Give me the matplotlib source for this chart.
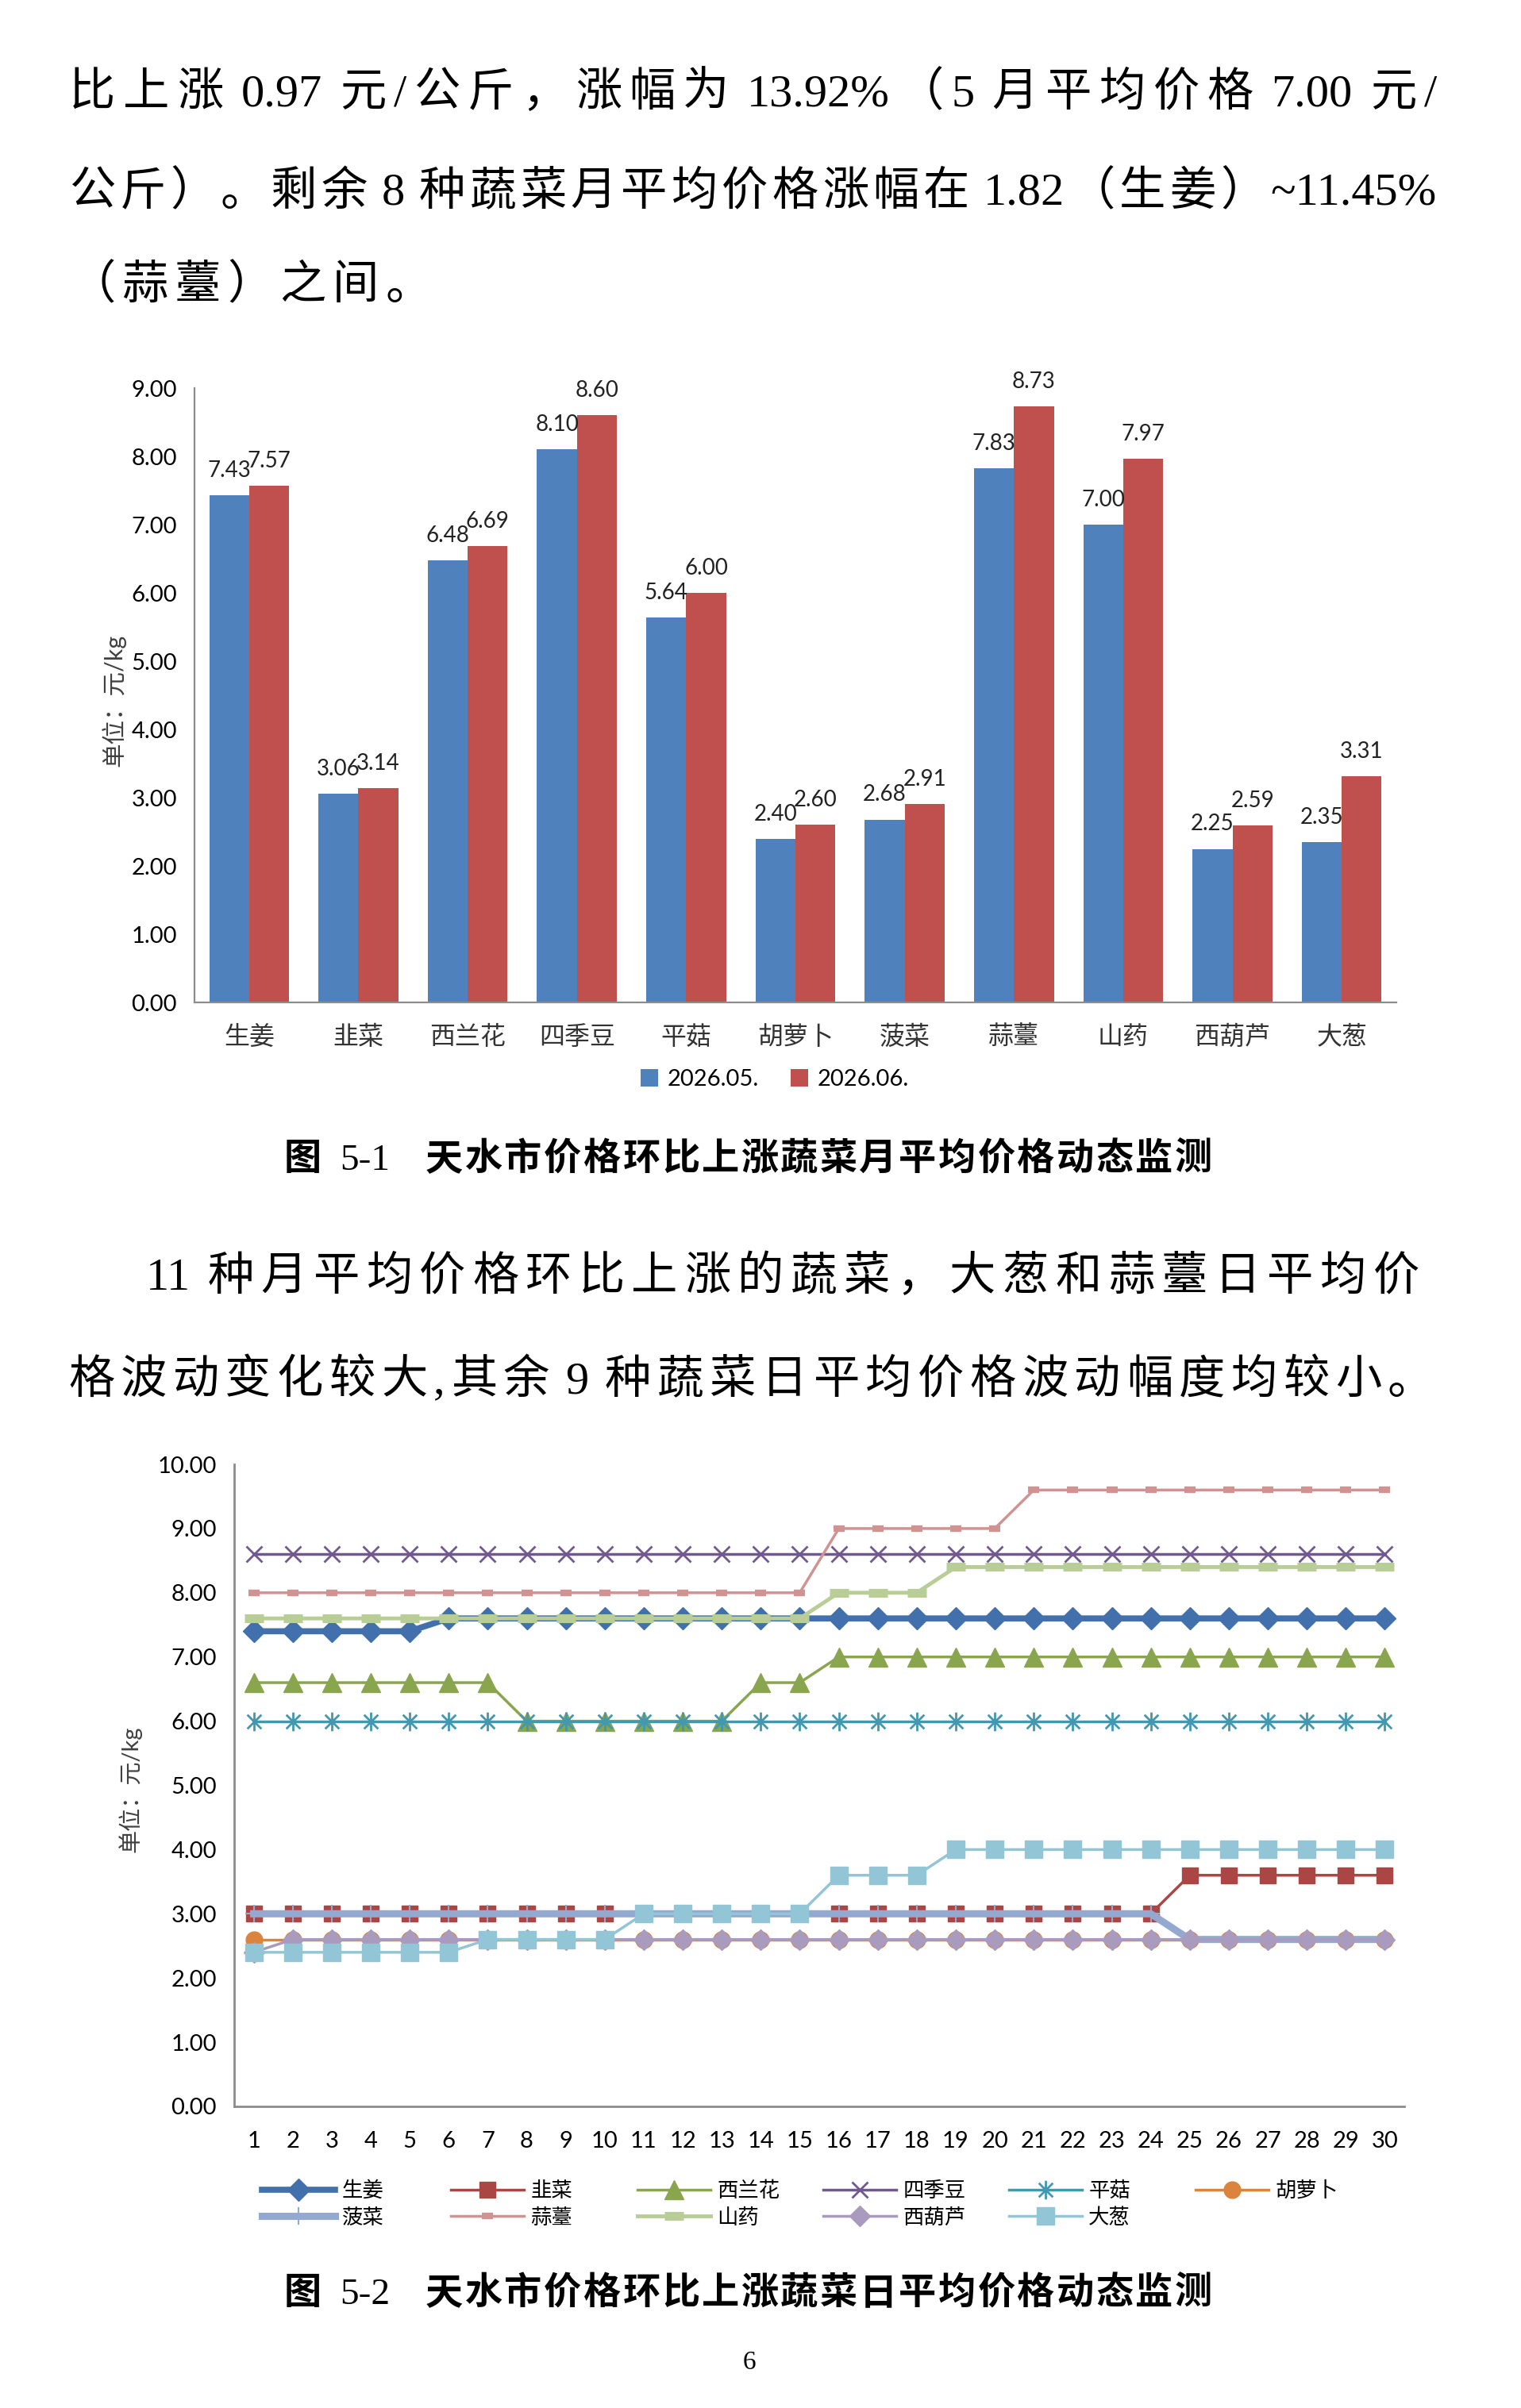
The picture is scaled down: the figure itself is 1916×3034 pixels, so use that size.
import re
import matplotlib
matplotlib.use('Agg')
import matplotlib.pyplot as plt
from matplotlib.path import Path

W, H = 1916, 3034

# ---- data ----
veg = ['生姜', '韭菜', '西兰花', '四季豆', '平菇', '胡萝卜', '菠菜', '蒜薹', '山药', '西葫芦', '大葱']
may = [7.43, 3.06, 6.48, 8.10, 5.64, 2.40, 2.68, 7.83, 7.00, 2.25, 2.35]
jun = [7.57, 3.14, 6.69, 8.60, 6.00, 2.60, 2.91, 8.73, 7.97, 2.59, 3.31]
months = ['2026.05.', '2026.06.']

days = list(range(1, 31))
ginger    = [7.4, 7.4, 7.4, 7.4, 7.4, 7.6, 7.6, 7.6, 7.6, 7.6, 7.6, 7.6, 7.6, 7.6, 7.6,
             7.6, 7.6, 7.6, 7.6, 7.6, 7.6, 7.6, 7.6, 7.6, 7.6, 7.6, 7.6, 7.6, 7.6, 7.6]
leek      = [3.0, 3.0, 3.0, 3.0, 3.0, 3.0, 3.0, 3.0, 3.0, 3.0, 3.0, 3.0, 3.0, 3.0, 3.0,
             3.0, 3.0, 3.0, 3.0, 3.0, 3.0, 3.0, 3.0, 3.0, 3.6, 3.6, 3.6, 3.6, 3.6, 3.6]
broccoli  = [6.6, 6.6, 6.6, 6.6, 6.6, 6.6, 6.6, 6.0, 6.0, 6.0, 6.0, 6.0, 6.0, 6.6, 6.6,
             7.0, 7.0, 7.0, 7.0, 7.0, 7.0, 7.0, 7.0, 7.0, 7.0, 7.0, 7.0, 7.0, 7.0, 7.0]
bean      = [8.6, 8.6, 8.6, 8.6, 8.6, 8.6, 8.6, 8.6, 8.6, 8.6, 8.6, 8.6, 8.6, 8.6, 8.6,
             8.6, 8.6, 8.6, 8.6, 8.6, 8.6, 8.6, 8.6, 8.6, 8.6, 8.6, 8.6, 8.6, 8.6, 8.6]
mushroom  = [6.0, 6.0, 6.0, 6.0, 6.0, 6.0, 6.0, 6.0, 6.0, 6.0, 6.0, 6.0, 6.0, 6.0, 6.0,
             6.0, 6.0, 6.0, 6.0, 6.0, 6.0, 6.0, 6.0, 6.0, 6.0, 6.0, 6.0, 6.0, 6.0, 6.0]
carrot    = [2.6, 2.6, 2.6, 2.6, 2.6, 2.6, 2.6, 2.6, 2.6, 2.6, 2.6, 2.6, 2.6, 2.6, 2.6,
             2.6, 2.6, 2.6, 2.6, 2.6, 2.6, 2.6, 2.6, 2.6, 2.6, 2.6, 2.6, 2.6, 2.6, 2.6]
spinach   = [3.0, 3.0, 3.0, 3.0, 3.0, 3.0, 3.0, 3.0, 3.0, 3.0, 3.0, 3.0, 3.0, 3.0, 3.0,
             3.0, 3.0, 3.0, 3.0, 3.0, 3.0, 3.0, 3.0, 3.0, 2.6, 2.6, 2.6, 2.6, 2.6, 2.6]
garlic    = [8.0, 8.0, 8.0, 8.0, 8.0, 8.0, 8.0, 8.0, 8.0, 8.0, 8.0, 8.0, 8.0, 8.0, 8.0,
             9.0, 9.0, 9.0, 9.0, 9.0, 9.6, 9.6, 9.6, 9.6, 9.6, 9.6, 9.6, 9.6, 9.6, 9.6]
yam       = [7.6, 7.6, 7.6, 7.6, 7.6, 7.6, 7.6, 7.6, 7.6, 7.6, 7.6, 7.6, 7.6, 7.6, 7.6,
             8.0, 8.0, 8.0, 8.4, 8.4, 8.4, 8.4, 8.4, 8.4, 8.4, 8.4, 8.4, 8.4, 8.4, 8.4]
zucchini  = [2.4, 2.6, 2.6, 2.6, 2.6, 2.6, 2.6, 2.6, 2.6, 2.6, 2.6, 2.6, 2.6, 2.6, 2.6,
             2.6, 2.6, 2.6, 2.6, 2.6, 2.6, 2.6, 2.6, 2.6, 2.6, 2.6, 2.6, 2.6, 2.6, 2.6]
scallion  = [2.4, 2.4, 2.4, 2.4, 2.4, 2.4, 2.6, 2.6, 2.6, 2.6, 3.0, 3.0, 3.0, 3.0, 3.0,
             3.6, 3.6, 3.6, 4.0, 4.0, 4.0, 4.0, 4.0, 4.0, 4.0, 4.0, 4.0, 4.0, 4.0, 4.0]
daily = [ginger, leek, broccoli, bean, mushroom, carrot, spinach, garlic, yam, zucchini, scallion]

para1 = ['比上涨 0.97 元/公斤，涨幅为 13.92%（5 月平均价格 7.00 元/',
         '公斤）。剩余 8 种蔬菜月平均价格涨幅在 1.82（生姜）~11.45%',
         '（蒜薹）之间。']
para2 = ['11 种月平均价格环比上涨的蔬菜，大葱和蒜薹日平均价',
         '格波动变化较大,其余 9 种蔬菜日平均价格波动幅度均较小。']
cap1 = ['图', '5-1', '天水市价格环比上涨蔬菜月平均价格动态监测']
cap2 = ['图', '5-2', '天水市价格环比上涨蔬菜日平均价格动态监测']

body_font = ['Liberation Serif', 'Noto Sans CJK SC']
num_font = ['Lato', 'Noto Sans CJK SC']
cjk = 'Noto Sans CJK SC'

fig = plt.figure(figsize=(W / 100, H / 100), dpi=100)
r = fig.canvas.get_renderer()


def put_line(s, x0, x1, ybase, size, fam, weight='normal', gap=None):
    # spread tokens between x0 and x1 (like justified word text)
    toks = re.findall(r' |[0-9A-Za-z.%/~\-]+|\S', s)
    sp = 0.22 * size * 100 / 72
    ts, ws = [], []
    for t in toks:
        if t == ' ':
            ts.append(None)
            ws.append(sp)
            continue
        tx = fig.text(0, 1 - ybase / H, t, fontsize=size, family=fam, weight=weight,
                      va='baseline', ha='left')
        ts.append(tx)
        ws.append(tx.get_window_extent(r).width)
    n = sum(1 for t in ts if t is not None)
    if gap is None:
        gap = (x1 - x0 - sum(ws)) / (n - 1)
    x = x0
    for t, w in zip(ts, ws):
        if t is None:
            x += w
            continue
        t.set_x(x / W)
        x += w + gap


put_line(para1[0], 87, 1810, 133, 42, body_font)
put_line(para1[1], 87, 1810, 258, 42, body_font)
put_line(para1[2], 87, None, 376, 42, body_font, gap=8)
put_line(para2[0], 184, 1788, 1625, 42, body_font)
put_line(para2[1], 86, 1806, 1755, 42, body_font)

for cap, yb in [(cap1, 1474), (cap2, 2903)]:
    fig.text(358 / W, 1 - yb / H, cap[0], fontsize=34, family=cjk, weight='bold', va='baseline')
    fig.text(428 / W, 1 - yb / H, cap[1], fontsize=34, family='Liberation Serif', va='baseline')
    put_line(cap[2], 536, 1527, yb, 34, cjk, weight='bold')

fig.text(944 / W, 1 - 2985 / H, '6', fontsize=24, family='Liberation Serif', ha='center', va='baseline')

# ---- bar chart ----
ax = fig.add_axes([245 / W, 1 - 1263 / H, 1514 / W, 774 / H])
x = list(range(len(veg)))
w = 0.365
b1 = ax.bar([i - w / 2 for i in x], may, w, color='#4F81BD', label=months[0])
b2 = ax.bar([i + w / 2 for i in x], jun, w, color='#C0504D', label=months[1])
ax.bar_label(b1, fmt='%.2f', padding=13, fontsize=20, family='Lato', color='#222222')
ax.bar_label(b2, fmt='%.2f', padding=13, fontsize=20, family='Lato', color='#222222')
ax.set_xlim(-0.5, len(veg) - 0.5)
ax.set_ylim(0, 9)
ax.set_yticks(range(0, 10))
ax.set_yticklabels(['%.2f' % v for v in range(0, 10)], family='Lato', fontsize=21)
ax.set_xticks(x)
ax.set_xticklabels(veg, family=cjk, fontsize=23, color='#333333')
ax.tick_params(axis='y', length=0, pad=16)
ax.tick_params(axis='x', length=0, pad=20)
ax.spines[['top', 'right']].set_visible(False)
for s in ['left', 'bottom']:
    ax.spines[s].set_color('#8c8c8c')
    ax.spines[s].set_linewidth(1.6)
fig.text(143 / W, 1 - 882 / H, '单位：元/kg', rotation=90, fontsize=22, family=num_font,
         color='#404040', ha='center', va='center')
fig.legend(handles=[b1, b2], loc='center', bbox_to_anchor=(976 / W, 1 - 1360 / H), ncol=2,
           frameon=False, prop={'family': 'Lato', 'size': 21}, handlelength=0.75,
           handleheight=0.75, handletextpad=0.4, columnspacing=1.4)

# ---- line chart ----
ax2 = fig.add_axes([295 / W, 1 - 2654 / H, 1474 / W, 809 / H])
star = Path([(0, -1), (0, 1), (-0.75, -0.75), (0.75, 0.75), (-0.75, 0.75), (0.75, -0.75)],
            [1, 2, 1, 2, 1, 2])
styles = [
    dict(color='#4170AD', marker='D', ms=14, lw=5.5),
    dict(color='#AA4643', marker='s', ms=15, lw=2.5),
    dict(color='#89A54E', marker='^', ms=17, lw=2.5),
    dict(color='#71588F', marker='x', ms=15, mew=2, lw=2.5),
    dict(color='#4198AF', marker=star, ms=17, mew=2, mfc='none', lw=2.5),
    dict(color='#DB843D', marker='o', ms=15, lw=2.5),
    dict(color='#93A9CF', marker='+', ms=16, mew=1.5, lw=6.5),
    dict(color='#D19392', marker='_', ms=10, mew=6, lw=2.5),
    dict(color='#B9CD96', marker='_', ms=17, mew=8, lw=3.5),
    dict(color='#A99BBD', marker='D', ms=13, lw=2.5),
    dict(color='#92C5D6', marker='s', ms=16, lw=2.5),
]
lines = []
for name, vals, st in zip(veg, daily, styles):
    ln, = ax2.plot(days, vals, label=name, clip_on=False, **st)
    lines.append(ln)
ax2.set_xlim(0.5, 30.5)
ax2.set_ylim(0, 10)
ax2.set_yticks(range(0, 11))
ax2.set_yticklabels(['%.2f' % v for v in range(0, 11)], family='Lato', fontsize=21)
ax2.set_xticks(days)
ax2.set_xticklabels([str(d) for d in days], family='Lato', fontsize=21)
ax2.tick_params(axis='y', length=0, pad=16)
ax2.tick_params(axis='x', length=0, pad=22)
ax2.spines[['top', 'right']].set_visible(False)
for s in ['left', 'bottom']:
    ax2.spines[s].set_color('#8c8c8c')
    ax2.spines[s].set_linewidth(2)
fig.text(163 / W, 1 - 2254 / H, '单位：元/kg', rotation=90, fontsize=21, family=num_font,
         color='#404040', ha='center', va='center')

cols = [[0, 6], [1, 7], [2, 8], [3, 9], [4, 10], [5]]
col_x = [330, 568, 803, 1037, 1271, 1506]
for c, cx in zip(cols, col_x):
    fig.legend(handles=[lines[i] for i in c], loc='upper left',
               bbox_to_anchor=(cx / W, 1 - 2747 / H), frameon=False, numpoints=1,
               prop={'family': cjk, 'size': 19}, handlelength=3.5, handletextpad=0.3,
               labelspacing=0.25, borderpad=0, borderaxespad=0)

fig.savefig('out.png', dpi=100)
